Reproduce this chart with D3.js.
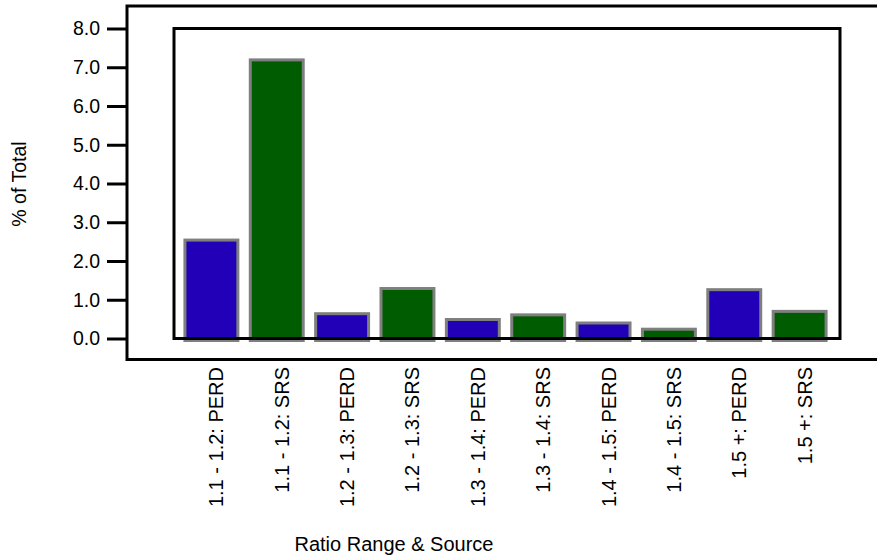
<!DOCTYPE html>
<html>
<head>
<meta charset="utf-8">
<script src="https://cdn.jsdelivr.net/npm/d3@7"></script>
<style>
  body { margin: 0; background: #fff; }
  svg { display: block; font-family: "Liberation Sans", Arial, sans-serif; }
</style>
</head>
<body>
<div id="chart"></div>
<script>
// data
const categories = ["1.1 - 1.2: PERD", "1.1 - 1.2: SRS", "1.2 - 1.3: PERD", "1.2 - 1.3: SRS",
    "1.3 - 1.4: PERD", "1.3 - 1.4: SRS", "1.4 - 1.5: PERD", "1.4 - 1.5: SRS",
    "1.5 +: PERD", "1.5 +: SRS"]
const sources = ["PERD", "SRS", "PERD", "SRS", "PERD", "SRS", "PERD", "SRS", "PERD", "SRS"]
const values = [2.54, 7.19, 0.64, 1.29, 0.49, 0.61, 0.40, 0.24, 1.26, 0.70]
const yTicks = [0, 1, 2, 3, 4, 5, 6, 7, 8]

const WIDTH = 877, HEIGHT = 558
const colors = { PERD: "#2100b8", SRS: "#005c00" }

const svg = d3.select("#chart")
    .append("svg")
        .attr("width", WIDTH)
        .attr("height", HEIGHT)

// inner plot box
const box = { left: 174, right: 840, top: 28.5, bottom: 338.5 }

//scales
const x = d3.scaleBand()
    .domain(categories)
    .range([box.left, box.right])
    .paddingInner(0.19)
    .paddingOuter(0.19)
    .align(0.44)

const y = d3.scaleLinear()
    .domain([0, 8])
    .range([box.bottom, box.top])

// bars
svg.append("g").selectAll("rect")
    .data(values)
    .enter()
    .append("rect")
        .attr("x", (d, i) => x(categories[i]))
        .attr("width", x.bandwidth())
        .attr("y", d => y(d))
        .attr("height", d => y(0) - y(d) + 2)
        .attr("fill", (d, i) => colors[sources[i]])
        .attr("stroke", "#7f7f7f")
        .attr("stroke-width", 3)

// inner box
svg.append("rect")
    .attr("x", box.left)
    .attr("y", box.top)
    .attr("width", box.right - box.left)
    .attr("height", box.bottom - box.top)
    .attr("fill", "none")
    .attr("stroke", "#000")
    .attr("stroke-width", 3)

// outer frame (open on the right, runs off the page)
svg.append("path")
    .attr("d", "M880,6H127V359.5H880")
    .attr("fill", "none")
    .attr("stroke", "#000")
    .attr("stroke-width", 3)

// y axis
const yAxisCall = d3.axisLeft(y)
    .tickValues(yTicks)
    .tickSize(20)
    .tickPadding(7)
    .tickFormat(d3.format(".1f"))

const yAxisGroup = svg.append("g")
    .attr("transform", "translate(127, 0)")
    .call(yAxisCall)
yAxisGroup.select(".domain").remove()
yAxisGroup.selectAll("line").attr("stroke", "#000").attr("stroke-width", 3)
yAxisGroup.selectAll("text")
    .attr("font-family", "Liberation Sans, Arial, sans-serif")
    .attr("font-size", 19.5)
    .attr("fill", "#000")

// x axis labels, rotated
const xAxisCall = d3.axisBottom(x).tickSize(0)
const xAxisGroup = svg.append("g")
    .attr("transform", "translate(0, 367)")
    .call(xAxisCall)
xAxisGroup.select(".domain").remove()
xAxisGroup.selectAll("text")
    .attr("transform", "rotate(-90)")
    .attr("x", 0)
    .attr("y", 0)
    .attr("dy", 12)
    .attr("text-anchor", "end")
    .attr("font-family", "Liberation Sans, Arial, sans-serif")
    .attr("font-size", 20)
    .attr("fill", "#000")

// axis titles
svg.append("text")
    .attr("transform", "translate(26, 184) rotate(-90)")
    .attr("text-anchor", "middle")
    .attr("font-size", 19.5)
    .text("% of Total")

svg.append("text")
    .attr("x", 394)
    .attr("y", 551)
    .attr("text-anchor", "middle")
    .attr("font-size", 20)
    .text("Ratio Range & Source")
</script>
</body>
</html>
